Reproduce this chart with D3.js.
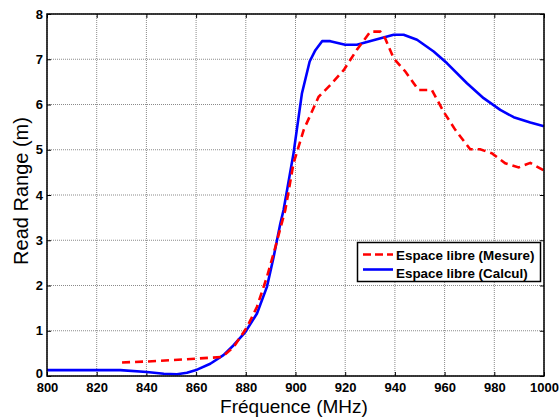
<!DOCTYPE html>
<html><head><meta charset="utf-8">
<script src="https://cdn.jsdelivr.net/npm/d3@7"></script>
<style>body{margin:0;background:#fff}svg{display:block}</style>
</head><body>
<script>
const xTicks = [800,820,840,860,880,900,920,940,960,980,1000];
const yTicks = [0,1,2,3,4,5,6,7,8];
const legendLabels = ["Espace libre (Mesure)","Espace libre (Calcul)"];
const xLabel = "Fréquence (MHz)";
const yLabel = "Read Range (m)";

const mesureF = [830.2,840.2,856.3,870.4,875.1,880.5,884.5,888.5,891.9,895.9,899.2,903.3,909.3,914,919.4,924.7,930.1,934.1,936.1,939.5,944.2,949.5,954.9,959.6,964.3,970.3,974.3,979.1,984.4,989.8,994.5,1000];
const mesureV = [0.30,0.32,0.37,0.42,0.64,1.08,1.53,2.19,2.85,3.67,4.70,5.44,6.17,6.43,6.76,7.21,7.61,7.61,7.46,7.02,6.73,6.32,6.32,5.84,5.44,5.01,5.01,4.92,4.70,4.61,4.71,4.54];

const calculF = [800,829.5,840.2,847,852.3,856.3,860.4,865.7,871,875.1,879.8,884.5,888.5,891.2,893.9,895.2,899.2,902.6,905.7,908,910.7,914,920,924.7,932.8,939.5,943.5,948.9,955.6,961,969,975.7,982.4,987.8,994.5,1000];
const calculV = [0.13,0.13,0.09,0.05,0.04,0.07,0.14,0.27,0.46,0.68,0.97,1.38,1.97,2.63,3.37,3.67,4.92,6.25,6.95,7.2,7.40,7.40,7.32,7.32,7.44,7.54,7.54,7.43,7.17,6.91,6.47,6.14,5.88,5.72,5.60,5.52];

const W = 559, H = 418;
const L = 47, R = 544, T = 14, B = 376;
const svg = d3.select("body").append("svg").attr("width", W).attr("height", H);
const x = d3.scaleLinear().domain([800,1000]).range([L,R]);
const y = d3.scaleLinear().domain([0,8]).range([B,T]);

// grid
const g = svg.append("g");
g.selectAll(".vg").data(xTicks).join("line")
  .attr("x1", d=>x(d)).attr("x2", d=>x(d)).attr("y1", T).attr("y2", B)
  .attr("stroke", "#8a8a8a").attr("stroke-width", 1).attr("stroke-dasharray", "1,1");
g.selectAll(".hg").data(yTicks).join("line")
  .attr("y1", d=>y(d)).attr("y2", d=>y(d)).attr("x1", L).attr("x2", R)
  .attr("stroke", "#8a8a8a").attr("stroke-width", 1).attr("stroke-dasharray", "1,1");

// axes
const fontTick = "Arial, 'Liberation Sans', sans-serif";
const xb = svg.append("g").attr("transform", `translate(0,${B})`)
  .call(d3.axisBottom(x).tickValues(xTicks).tickSizeInner(-4).tickSizeOuter(0).tickPadding(7).tickFormat(d3.format("d")));
const xt = svg.append("g").attr("transform", `translate(0,${T})`)
  .call(d3.axisTop(x).tickValues(xTicks).tickSizeInner(-4).tickSizeOuter(0).tickFormat(""));
const yl = svg.append("g").attr("transform", `translate(${L},0)`)
  .call(d3.axisLeft(y).tickValues(yTicks).tickSizeInner(-4).tickSizeOuter(0).tickPadding(4).tickFormat(d3.format("d")));
const yr = svg.append("g").attr("transform", `translate(${R},0)`)
  .call(d3.axisRight(y).tickValues(yTicks).tickSizeInner(-4).tickSizeOuter(0).tickFormat(""));
[xb,xt,yl,yr].forEach(a=>{
  a.select(".domain").remove();
  a.selectAll(".tick line").attr("stroke","#000").attr("stroke-width",1);
  a.selectAll("text").attr("font-family", fontTick).attr("font-weight","bold").attr("font-size","13px").attr("fill","#000");
});
yl.selectAll(".tick").filter(d=>d===0).select("text").attr("dy","0.08em");

// lines
const line = d3.line().x(d=>x(d[0])).y(d=>y(d[1]));
svg.append("path").datum(calculF.map((f,i)=>[f,calculV[i]]))
  .attr("d", line).attr("fill","none").attr("stroke","#0000ff").attr("stroke-width",2.6).attr("stroke-linejoin","round");
svg.append("path").datum(mesureF.map((f,i)=>[f,mesureV[i]]))
  .attr("d", line).attr("fill","none").attr("stroke","#ff0000").attr("stroke-width",2.6).attr("stroke-dasharray","8,5");

// box
svg.append("rect").attr("x",L).attr("y",T).attr("width",R-L).attr("height",B-T)
  .attr("fill","none").attr("stroke","#000").attr("stroke-width",1.5);

// axis labels
svg.append("text").attr("x",294).attr("y",413).attr("text-anchor","middle")
  .attr("font-family",fontTick).attr("font-size","19px").text(xLabel);
svg.append("text").attr("transform",`translate(27.5,191) rotate(-90)`).attr("text-anchor","middle")
  .attr("font-family",fontTick).attr("font-size","20px").text(yLabel);

// legend
const lg = svg.append("g");
lg.append("rect").attr("x",357.5).attr("y",242.5).attr("width",183).attr("height",39)
  .attr("fill","#fff").attr("stroke","#000").attr("stroke-width",1.5);
const lstyles = [{c:"#ff0000",d:"8,4"},{c:"#0000ff",d:null}];
legendLabels.forEach((t,i)=>{
  const yy = 254.5 + i*15;
  const l = lg.append("line").attr("x1",363).attr("x2",393).attr("y1",yy).attr("y2",yy)
    .attr("stroke",lstyles[i].c).attr("stroke-width",2.6);
  if (lstyles[i].d) l.attr("stroke-dasharray",lstyles[i].d);
  lg.append("text").attr("x",396).attr("y",260 + i*17.7).attr("font-family",fontTick)
    .attr("font-weight","bold").attr("font-size","13.4px").text(t);
});
</script>
</body></html>
